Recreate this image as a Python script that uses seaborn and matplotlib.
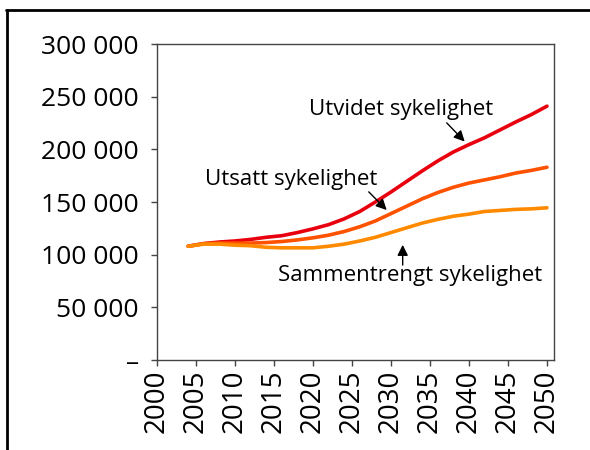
import pandas as pd
import numpy as np
import matplotlib.pyplot as plt
import seaborn as sns
from matplotlib.lines import Line2D

years = [2004, 2006, 2008, 2010, 2012, 2014, 2016, 2018, 2020, 2022, 2024, 2026,
         2028, 2030, 2032, 2034, 2036, 2038, 2040, 2042, 2044, 2046, 2048, 2050]

utvidet = [108000, 110500, 112000, 113000, 114500, 116500, 118000, 121000,
           124500, 128500, 134000, 141000, 150000, 159500, 169500, 179500,
           189000, 197500, 204500, 211000, 218500, 226000, 233000, 241000]

utsatt = [108000, 110500, 111000, 111000, 111000, 111500, 112500, 114000,
          116000, 118500, 122000, 126500, 132000, 139000, 146000, 153000,
          159000, 164000, 168000, 171000, 174000, 177500, 180000, 183000]

sammentrengt = [108000, 110000, 110000, 109000, 108500, 107000, 106500, 106500,
                106500, 108000, 110000, 113000, 116500, 121000, 125500, 130000,
                133500, 136500, 138500, 141000, 142000, 143000, 143500, 144500]

series_names = ["Utvidet sykelighet", "Utsatt sykelighet", "Sammentrengt sykelighet"]
colors = ["#e8000e", "#ff5200", "#ff8a00"]

x_ticks = list(range(2000, 2051, 5))
y_ticks = [0, 50000, 100000, 150000, 200000, 250000, 300000]
y_labels = ["\u2013", "50 000", "100 000", "150 000", "200 000", "250 000", "300 000"]

df = pd.DataFrame({
    "year": years * 3,
    "value": utvidet + utsatt + sammentrengt,
    "series": [series_names[0]] * len(years) + [series_names[1]] * len(years)
              + [series_names[2]] * len(years),
})

sns.set_style("white")
plt.rcParams["font.family"] = ["Open Sans", "DejaVu Sans"]
plt.rcParams["text.color"] = "black"
plt.rcParams["xtick.color"] = "black"
plt.rcParams["ytick.color"] = "black"

fig = plt.figure(figsize=(5.9, 4.5), dpi=100)
ax = fig.add_axes([157 / 590, 90 / 450, (554 - 157) / 590, (360 - 44) / 450])

sns.lineplot(
    data=df,
    x="year",
    y="value",
    hue="series",
    hue_order=series_names,
    palette=colors,
    linewidth=2.6,
    legend=False,
    ax=ax
)

ax.set_xlim(2000, 2050.9)
ax.set_ylim(0, 300000)
ax.set_xticks(x_ticks)
ax.set_xticklabels([str(t) for t in x_ticks], rotation=90, fontsize=20)
ax.set_yticks(y_ticks)
ax.set_yticklabels(y_labels, fontsize=19)
ax.set_xlabel("")
ax.set_ylabel("")

for s in ax.spines.values():
    s.set_color("#444444")
    s.set_linewidth(1.0)

ax.tick_params(axis="y", direction="out", length=4, width=1,
               color="#444444", labelcolor="black", pad=9, left=True)
ax.tick_params(axis="x", direction="out", length=4, width=1,
               color="#444444", labelcolor="black", pad=3, bottom=True)

arrow = dict(arrowstyle="-|>", color="black", lw=1.0, mutation_scale=16)

ax.text(2031.3, 238000, "Utvidet sykelighet", ha="center", va="center",
        fontsize=16, color="black")
ax.annotate("", xy=(2039.7, 205500), xytext=(2036.9, 227000), arrowprops=arrow)

ax.text(2017.2, 171000, "Utsatt sykelighet", ha="center", va="center",
        fontsize=16, color="black")
ax.annotate("", xy=(2029.7, 140500), xytext=(2026.9, 161500), arrowprops=arrow)

ax.text(2032.4, 80500, "Sammentrengt sykelighet", ha="center", va="center",
        fontsize=16, color="black")
ax.annotate("", xy=(2031.5, 112000), xytext=(2031.5, 87500), arrowprops=arrow)

# frame round the whole figure
fig.add_artist(Line2D([6 / 590, 1.0], [1 - 10 / 450, 1 - 10 / 450],
                      transform=fig.transFigure, color="black", lw=2))
fig.add_artist(Line2D([7 / 590, 7 / 590], [0.0, 1 - 10 / 450],
                      transform=fig.transFigure, color="black", lw=2))

plt.savefig("out.png", dpi=100)
